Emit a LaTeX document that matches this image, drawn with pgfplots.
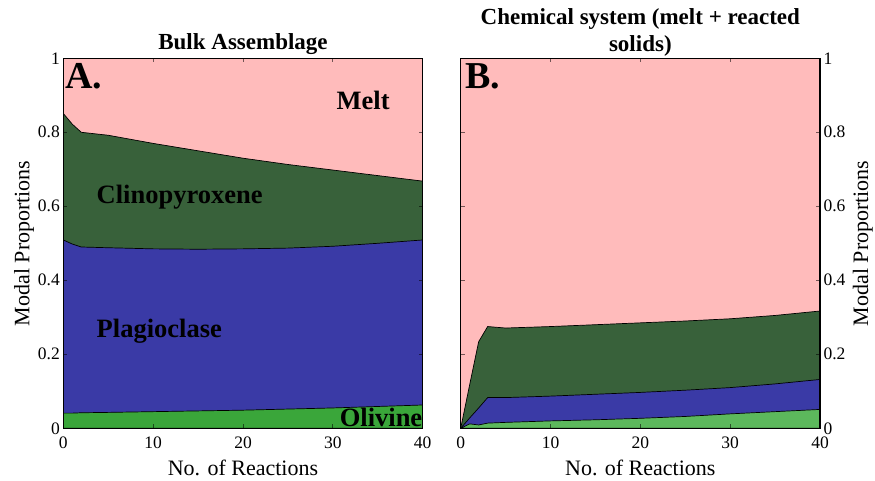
\documentclass[border=0pt]{standalone}
\usepackage{fontspec}
\setmainfont{Liberation Serif}
\usepackage{pgfplots}
\usepackage{pgfplotstable}
\pgfplotsset{compat=1.18}
\definecolor{meltc}{HTML}{FFBBBB}
\definecolor{cpxc}{HTML}{38613A}
\definecolor{plagc}{HTML}{3A3AA6}
\definecolor{olA}{HTML}{3AA63A}
\definecolor{olB}{HTML}{5CB85C}

% cumulative boundaries (olivine, olivine+plag, olivine+plag+cpx); melt fills to 1
\pgfplotstableread{
x    ol     plag   cpx
0    0.041  0.509  0.851
1    0.041  0.498  0.822
2    0.042  0.490  0.800
5    0.043  0.488  0.792
10   0.045  0.485  0.770
15   0.047  0.484  0.750
20   0.049  0.485  0.730
25   0.052  0.487  0.713
30   0.055  0.492  0.698
35   0.059  0.500  0.683
40   0.063  0.509  0.668
}\bulk
\pgfplotstableread{
x    ol     plag   cpx
0    0.000  0.000  0.000
1    0.012  0.028  0.118
2    0.009  0.055  0.234
3    0.014  0.083  0.275
5    0.016  0.083  0.271
10   0.020  0.087  0.275
15   0.023  0.092  0.280
20   0.027  0.097  0.285
25   0.032  0.103  0.290
30   0.039  0.110  0.296
35   0.045  0.120  0.305
40   0.051  0.132  0.317
}\chem

\pgfplotsset{
  panel/.style={
    scale only axis, height=370pt,
    xmin=0, xmax=40, ymin=0, ymax=1,
    xtick={0,10,20,30,40}, ytick={0,0.2,0.4,0.6,0.8,1},
    tick align=inside, major tick length=4pt,
    xtick pos=both,
    major tick style={black, line width=0.9pt, opacity=0.55},
    axis on top,
    axis line style={line width=1.3pt},
    /pgf/number format/assume math mode=true,
    tick label style={font=\fontsize{17.5}{20}\selectfont},
    xticklabel style={yshift=-5pt},
    label style={font=\fontsize{22}{24}\selectfont},
    xlabel={No. of Reactions},
    xlabel style={at={(axis description cs:0.5,0)}, anchor=base, yshift=-47pt},
    ylabel={Modal Proportions},
    title style={font=\bfseries\fontsize{23}{25}\selectfont, at={(axis description cs:0.5,1)}, anchor=south, inner sep=0pt, align=center},
  },
  area/.style={draw=black, line width=0.7pt},
}
\tikzset{
  lab/.style={anchor=base west, inner sep=0pt, font=\bfseries\fontsize{26.5}{28}\selectfont},
  big/.style={anchor=base west, inner sep=0pt, font=\bfseries\fontsize{38}{40}\selectfont},
}

\begin{document}
\begin{tikzpicture}
\useasboundingbox (0,0) rectangle (875pt,480pt);
\begin{axis}[panel, width=359.4pt, at={(63.3pt,51.7pt)}, anchor=south west,
  title={Bulk Assemblage}, title style={yshift=-2pt},
  ytick pos=both, yticklabel pos=left,
  ylabel style={at={(axis description cs:0,0.5)}, anchor=base, yshift=34pt}]
\addplot[fill=meltc, draw=none] coordinates {(0,1) (40,1)} \closedcycle;
\addplot[area, fill=cpxc] table[x=x, y=cpx] {\bulk} \closedcycle;
\addplot[area, fill=plagc] table[x=x, y=plag] {\bulk} \closedcycle;
\addplot[area, fill=olA] table[x=x, y=ol] {\bulk} \closedcycle;
\node[big] at (axis cs:0.19,0.919) {A.};
\node[lab] at (axis cs:30.4,0.862) {Melt};
\node[lab] at (axis cs:3.7,0.608) {Clinopyroxene};
\node[lab] at (axis cs:3.7,0.245) {Plagioclase};
\node[lab] at (axis cs:30.75,0.006) {Olivine};
\end{axis}
\begin{axis}[panel, width=359.3pt, at={(460.7pt,51.7pt)}, anchor=south west,
  title={Chemical system (melt + reacted\\[2pt]solids)}, title style={yshift=-4.5pt},
  ytick pos=both, yticklabel pos=right,
  ylabel style={at={(axis description cs:1,0.5)}, anchor=base, yshift=-48pt}]
\addplot[fill=meltc, draw=none] coordinates {(0,1) (40,1)} \closedcycle;
\addplot[area, fill=cpxc] table[x=x, y=cpx] {\chem} \closedcycle;
\addplot[area, fill=plagc] table[x=x, y=plag] {\chem} \closedcycle;
\addplot[area, fill=olB] table[x=x, y=ol] {\chem} \closedcycle;
\node[big] at (axis cs:0.48,0.919) {B.};
\end{axis}
\end{tikzpicture}
\end{document}
